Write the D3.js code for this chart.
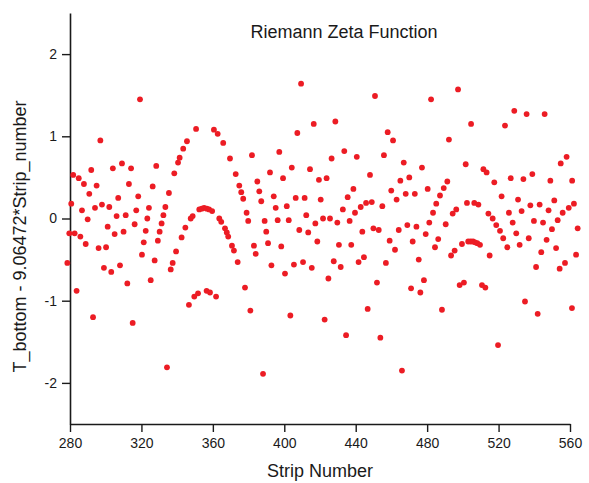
<!DOCTYPE html>
<html>
<head>
<meta charset="utf-8">
<script src="https://cdn.jsdelivr.net/npm/d3@7"></script>
<style>
  html, body { margin: 0; padding: 0; background: #fff; }
  svg { display: block; font-family: "Liberation Sans", Arial, sans-serif; }
</style>
</head>
<body>
<svg id="chart" width="589" height="483"></svg>
<script>
// ---- data ----
const chartTitle = "Riemann Zeta Function";
const xLabel = "Strip Number";
const yLabel = "T_bottom - 9.06472*Strip_number";
const xMajorTicks = [280, 320, 360, 400, 440, 480, 520, 560];
const xMinorTicks = [300, 340, 380, 420, 460, 500, 540];
const yMajorTicks = [-2, -1, 0, 1, 2];
const yMinorTicks = [-2.5, -1.5, -0.5, 0.5, 1.5, 2.5];
// [strip number, residual]
const samples = [
[278.5,-0.54],[279.6,-0.18],[280.7,0.18],[281.8,0.53],[282.6,-0.18],[283.7,-0.88],[284.9,0.49],[285.8,-0.22],[286.7,0.10],[287.8,0.42],
[288.8,-0.31],[289.9,-0.01],[290.8,0.30],[291.9,0.59],[292.9,-1.20],[294.0,0.13],[294.9,0.40],[296.0,-0.36],[297.0,0.95],[297.9,0.17],
[299.0,-0.60],[300.2,-0.35],[301.1,-0.10],[302.0,0.14],[303.1,-0.65],[304.0,0.61],[305.0,-0.19],[306.1,0.03],[307.0,0.25],[308.0,-0.57],
[309.1,0.67],[310.0,-0.16],[311.2,0.04],[312.1,-0.79],[313.0,0.42],[314.2,0.61],[315.1,-1.27],[316.2,-0.07],[317.1,0.10],[318.2,0.27],
[319.2,1.45],[320.3,-0.44],[321.3,-0.29],[322.4,-0.15],[323.3,0.00],[324.2,0.13],[325.2,-0.75],[326.3,0.39],[327.4,-0.51],[328.3,0.64],
[329.2,-0.27],[330.2,-0.16],[331.3,-0.06],[332.3,0.04],[333.4,0.14],[334.3,-1.81],[335.4,0.31],[336.4,-0.62],[337.5,-0.54],[338.4,0.55],
[339.4,-0.40],[340.5,0.68],[341.4,0.74],[342.5,-0.23],[343.4,0.85],[344.6,-0.11],[345.5,0.94],[346.6,-1.05],[347.6,0.00],[348.7,0.03],
[349.6,-0.95],[350.6,1.09],[351.7,-0.91],[352.4,0.11],[353.8,0.12],[355.1,0.13],[356.5,-0.88],[356.6,0.12],[357.9,0.11],[358.4,-0.90],
[359.6,0.09],[360.6,1.08],[361.8,-0.95],[362.7,1.03],[363.6,0.00],[364.7,-0.04],[365.8,0.92],[366.8,-0.12],[367.8,-0.17],[368.6,-0.22],
[369.6,0.73],[370.7,-0.33],[371.8,-0.39],[372.8,0.54],[373.9,-0.53],[374.8,0.40],[375.9,0.32],[377.0,0.24],[378.0,-0.84],[378.9,0.07],
[379.8,-0.03],[381.0,-1.12],[381.9,0.77],[383.0,-0.33],[384.0,-0.43],[384.9,0.45],[386.0,0.33],[387.1,0.21],[388.1,-1.89],[389.0,-0.03],
[389.9,-0.16],[390.9,-0.30],[392.0,0.56],[392.8,-0.57],[394.1,0.27],[395.2,0.13],[396.3,-0.02],[397.2,0.81],[398.3,-0.34],[399.3,0.49],
[400.4,-0.67],[401.4,0.15],[402.5,-0.02],[403.4,-1.18],[404.2,0.62],[405.4,-0.56],[406.4,0.25],[407.3,1.04],[408.4,-0.14],[409.4,1.64],
[410.5,-0.53],[411.4,0.25],[412.3,0.04],[413.4,-0.17],[414.4,0.60],[415.4,-0.60],[416.5,1.15],[417.4,-0.06],[418.5,-0.28],[419.4,0.47],
[420.4,0.23],[421.7,0.00],[422.6,-1.23],[423.7,0.49],[424.7,-0.73],[425.6,0.00],[426.5,0.73],[427.7,-0.52],[428.6,1.18],[429.7,-0.05],
[430.6,-0.32],[431.6,-0.59],[432.8,0.11],[433.6,0.82],[434.6,-1.42],[435.5,0.26],[436.6,-0.03],[437.5,-0.32],[438.7,0.36],[439.6,0.07],
[440.6,0.75],[441.6,-0.53],[442.8,0.14],[443.7,-0.16],[444.6,-0.47],[445.8,0.19],[446.7,-1.10],[448.0,0.53],[449.0,0.20],[449.9,-0.12],
[450.8,1.49],[451.9,-0.78],[452.9,-0.14],[453.8,-1.45],[454.9,0.15],[455.8,0.77],[456.9,-0.54],[457.9,1.05],[459.0,-0.27],[459.9,0.34],
[460.9,0.95],[462.0,-0.38],[462.9,0.23],[464.1,-0.14],[465.0,0.46],[465.9,-1.85],[466.9,0.68],[468.0,0.30],[468.9,-0.08],[470.0,0.50],
[471.0,-0.85],[471.9,-0.28],[473.1,0.30],[474.0,-0.10],[475.3,-0.50],[476.2,-0.90],[477.1,0.62],[478.2,-0.75],[479.2,-0.19],[480.3,0.36],
[481.2,-0.05],[482.2,1.45],[483.3,0.07],[484.4,-0.35],[485.1,0.18],[486.2,-0.25],[487.2,0.28],[488.3,-1.11],[489.3,0.37],[490.4,-0.07],
[491.3,0.45],[492.2,0.96],[493.4,-0.45],[494.3,0.06],[495.4,-0.39],[496.3,0.11],[497.3,1.57],[498.2,-0.81],[499.5,-0.31],[500.6,-0.78],
[501.6,0.66],[502.3,0.19],[503.0,-0.28],[504.4,-0.28],[504.6,1.15],[505.7,-0.28],[506.4,0.19],[506.8,-0.29],[508.1,-0.30],[508.7,0.17],
[509.6,-0.32],[510.7,-0.81],[511.5,0.60],[512.6,-0.84],[513.3,0.56],[514.3,0.06],[515.0,-0.45],[516.7,0.00],[517.6,0.44],[518.7,-0.08],
[519.7,-1.54],[520.8,-0.15],[521.7,0.27],[522.6,-0.24],[523.6,1.13],[524.9,-0.35],[525.8,0.07],[526.8,0.49],[527.9,-0.05],[528.8,1.31],
[529.9,-0.18],[530.9,0.23],[531.8,-0.32],[532.9,0.09],[533.9,0.48],[534.8,-1.01],[535.7,1.27],[536.9,-0.24],[537.8,0.16],[538.9,0.54],
[539.8,-0.03],[541.0,-0.59],[541.9,-1.16],[543.0,0.17],[543.9,-0.41],[544.9,-0.05],[545.8,1.27],[546.9,-0.26],[548.0,0.10],[549.0,0.46],
[549.9,-0.13],[551.2,0.22],[552.2,-0.36],[553.1,-0.02],[554.2,-0.61],[554.8,0.67],[555.9,0.07],[557.2,-0.54],[558.1,0.75],[559.3,0.13],
[561.1,-1.09],[561.2,0.46],[562.2,0.18],[563.4,-0.44],[564.3,-0.12]
];

// ---- drawing ----
const svg = d3.select("#chart");
const x = d3.scaleLinear().domain([280, 560]).range([70, 570]);
const y = d3.scaleLinear().domain([-2.5, 2.5]).range([424, 13]);
const ink = "#1a1a1a";

// x axis
const gx = svg.append("g").attr("transform", `translate(0,${y(-2.5)})`);
gx.call(d3.axisBottom(x).tickValues(xMinorTicks).tickSize(4.5).tickSizeOuter(0).tickFormat(""));
gx.call(d3.axisBottom(x).tickValues(xMajorTicks).tickSize(8).tickSizeOuter(0).tickPadding(6).tickFormat(d3.format("d")));
gx.selectAll("path.domain").attr("stroke", ink).attr("stroke-width", 1.6);
gx.selectAll(".tick line").attr("stroke", ink).attr("stroke-width", 1.4);
gx.selectAll(".tick text").attr("font-size", 14).attr("fill", ink).attr("font-family", "Liberation Sans, Arial, sans-serif");

// y axis
const gy = svg.append("g").attr("transform", `translate(${x(280)},0)`);
gy.call(d3.axisLeft(y).tickValues(yMinorTicks).tickSize(5).tickSizeOuter(0).tickFormat(""));
gy.call(d3.axisLeft(y).tickValues(yMajorTicks).tickSize(8).tickSizeOuter(0).tickPadding(5).tickFormat(d3.format("d")));
gy.selectAll("path.domain").attr("stroke", ink).attr("stroke-width", 1.6);
gy.selectAll(".tick line").attr("stroke", ink).attr("stroke-width", 1.4);
gy.selectAll(".tick text").attr("font-size", 14).attr("fill", ink).attr("font-family", "Liberation Sans, Arial, sans-serif")
  .text(d => d < 0 ? "-" + Math.abs(d) : d);

// points
svg.append("g").selectAll("circle").data(samples).join("circle")
  .attr("cx", d => x(d[0]))
  .attr("cy", d => y(d[1]))
  .attr("r", 2.9)
  .attr("fill", "#ec1c24");

// texts
svg.append("text").attr("x", 344).attr("y", 38).attr("text-anchor", "middle")
  .attr("font-size", 18).attr("fill", ink).text(chartTitle);
svg.append("text").attr("x", 320).attr("y", 477).attr("text-anchor", "middle")
  .attr("font-size", 18).attr("fill", ink).text(xLabel);
svg.append("text").attr("transform", `translate(26,${(y(-2.5) + y(2.5)) / 2 + 18}) rotate(-90)`)
  .attr("text-anchor", "middle").attr("font-size", 18).attr("fill", ink).text(yLabel);
</script>
</body>
</html>
